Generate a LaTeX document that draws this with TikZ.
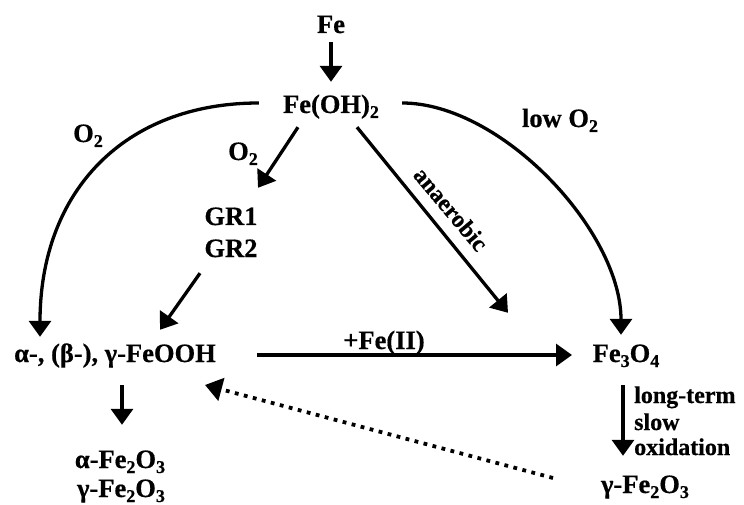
\documentclass[tikz,border=0pt]{standalone}
\usepackage{fontspec}
\setmainfont{Liberation Serif}[BoldFeatures={FakeBold=0.6}]
\usetikzlibrary{arrows.meta}
\newcommand{\chsb}[1]{\raisebox{-5pt}{\fontsize{18}{18}\selectfont #1}}
\begin{document}
\begin{tikzpicture}[x=1pt,y=-1pt,
  lbl/.style={font=\fontsize{26.5}{30}\selectfont\bfseries, inner sep=0pt, text height=18pt, text depth=4pt, anchor=base},
  small/.style={font=\fontsize{24}{26}\selectfont\bfseries, inner sep=0pt},
  arr/.style={line width=3.3pt, -{Triangle[length=16pt,width=22pt]}},
  dotarr/.style={line width=3.8pt, dash pattern=on 3.8pt off 5.5pt, -{Triangle[length=17pt,width=23pt]}}
]
\useasboundingbox (0,0) rectangle (744,505);

% nodes
\node[lbl] (fe) at (331,33) {Fe};
\node[lbl] (feoh) at (331,113) {Fe(OH)\chsb{2}};
\node[lbl] (o2l) at (88,142) {O\chsb{2}};
\node[lbl] (o2m) at (243,160) {O\chsb{2}};
\node[lbl] (lowo2) at (560,127) {low O\chsb{2}};
\node[lbl] (gr1) at (231,225) {GR1};
\node[lbl] (gr2) at (231,257) {GR2};
\node[lbl] (feooh) at (115,362) {α-, (β-), γ-FeOOH};
\node[lbl] (feii) at (384,349) {+Fe(II)};
\node[lbl] (fe3o4) at (626,362) {Fe\chsb{3}O\chsb{4}};
\node[lbl] (gfer) at (645,493) {γ-Fe\chsb{2}O\chsb{3}};
\node[lbl] (afel) at (120,468) {α-Fe\chsb{2}O\chsb{3}};
\node[lbl] (gfel) at (121,497) {γ-Fe\chsb{2}O\chsb{3}};

\node[small, anchor=base west] (lt1) at (634,403) {long-term};
\node[small, anchor=base west] (lt2) at (634,430) {slow};
\node[small, anchor=base west] (lt3) at (634,455) {oxidation};
\node[small, rotate=-50] (anaer) at (451,209) {anaerobic};

% connectors
\draw[arr, shorten <=5pt, shorten >=13pt] (fe.south) -- (feoh.north);
\draw[arr] ([xshift=-24pt,yshift=3pt]feoh.west) .. controls +(-135,0) and +(0,-145) .. ([xshift=-75pt,yshift=7pt]feooh.north);
\draw[arr] ([xshift=23pt,yshift=3pt]feoh.east) .. controls +(99,0) and +(0,-104) .. ([xshift=-5pt,yshift=9pt]fe3o4.north);
\draw[arr] ([xshift=-33pt,yshift=-10pt]feoh.south) -- ([xshift=27pt,yshift=19pt]gr1.north);
\draw[arr] ([xshift=26pt,yshift=-10pt]feoh.south) -- ([xshift=-118pt,yshift=31pt]fe3o4.north);
\draw[arr] ([xshift=-31pt,yshift=-12pt]gr2.south) -- ([xshift=45pt,yshift=14pt]feooh.north);
\draw[arr] ([xshift=142pt]feooh.center) -- ([xshift=-54pt]fe3o4.center);
\draw[arr] ([xshift=-3pt,yshift=-19pt]fe3o4.south) -- ([xshift=-22pt,yshift=19pt]gfer.north);
\draw[arr] ([xshift=7pt,yshift=-19pt]feooh.south) -- ([xshift=2pt,yshift=25pt]afel.north);
\draw[dotarr] ([xshift=-92pt,yshift=8pt]gfer.center) -- ([xshift=90pt,yshift=-30pt]feooh.center);
\end{tikzpicture}
\end{document}
